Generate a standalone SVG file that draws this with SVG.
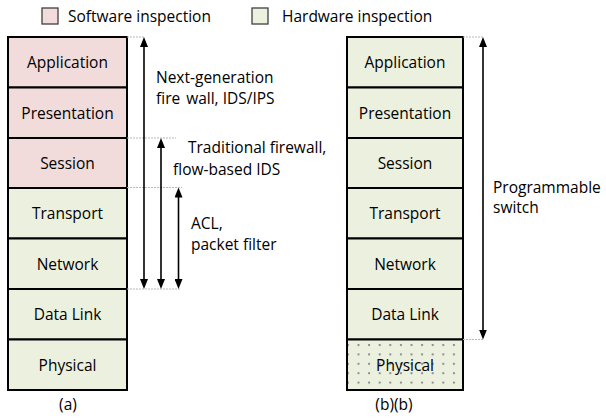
<svg xmlns="http://www.w3.org/2000/svg" width="606" height="418" viewBox="0 0 606 418">
<style>
text{font-family:"Open Sans","Noto Sans","Liberation Sans",sans-serif;font-size:15.5px;fill:#000}
.c{text-anchor:middle}
.sw{fill:#f2dcdb;stroke:#000;stroke-width:2}
.hw{fill:#ebf1de;stroke:#000;stroke-width:2}
.lg{stroke:#404040;stroke-width:1.3}
.arr{stroke:#000;stroke-width:1.6;fill:none;marker-start:url(#ah);marker-end:url(#ah)}
.guide{stroke:#b8b8b8;stroke-width:1;stroke-dasharray:2 1;fill:none}
</style>
<defs>
<marker id="ah" viewBox="0 0 10 8" refX="5" refY="4" markerWidth="10" markerHeight="8" markerUnits="userSpaceOnUse" orient="auto-start-reverse">
<path d="M0,0 L10,4 L0,8 z" fill="#000"/>
</marker>
<pattern id="dots" patternUnits="userSpaceOnUse" x="357.5" y="344" width="10.6" height="9.4">
<rect x="0" y="0" width="10.6" height="9.4" fill="#ebf1de"/>
<rect x="0" y="0" width="2" height="2" fill="#8f8f8f"/>
</pattern>
</defs>

<g id="legend">
<g id="legend-software"><rect class="lg" x="42" y="8" width="16" height="16" fill="#f2dcdb"/><text x="68" y="22">Software inspection</text></g>
<g id="legend-hardware"><rect class="lg" x="252" y="8" width="16" height="16" fill="#ebf1de"/><text x="282" y="22">Hardware inspection</text></g>
</g>

<g id="stack-a">
<g id="a-application"><rect class="sw" x="8" y="37" width="119" height="50.5"/><text class="c" x="67.5" y="68">Application</text></g>
<g id="a-presentation"><rect class="sw" x="8" y="87.5" width="119" height="50.5"/><text class="c" x="67.5" y="118.5">Presentation</text></g>
<g id="a-session"><rect class="sw" x="8" y="138" width="119" height="50"/><text class="c" x="67.5" y="169">Session</text></g>
<g id="a-transport"><rect class="hw" x="8" y="188" width="119" height="50.5"/><text class="c" x="67.5" y="219">Transport</text></g>
<g id="a-network"><rect class="hw" x="8" y="238.5" width="119" height="50.5"/><text class="c" x="67.5" y="269.5">Network</text></g>
<g id="a-datalink"><rect class="hw" x="8" y="289" width="119" height="50.5"/><text class="c" x="67.5" y="320">Data Link</text></g>
<g id="a-physical"><rect class="hw" x="8" y="339.5" width="119" height="50.5"/><text class="c" x="67.5" y="370.5">Physical</text></g>
</g>

<g id="stack-b">
<g id="b-application"><rect class="hw" x="347" y="37" width="116" height="50.5"/><text class="c" x="405" y="68">Application</text></g>
<g id="b-presentation"><rect class="hw" x="347" y="87.5" width="116" height="50.5"/><text class="c" x="405" y="118.5">Presentation</text></g>
<g id="b-session"><rect class="hw" x="347" y="138" width="116" height="50"/><text class="c" x="405" y="169">Session</text></g>
<g id="b-transport"><rect class="hw" x="347" y="188" width="116" height="50.5"/><text class="c" x="405" y="219">Transport</text></g>
<g id="b-network"><rect class="hw" x="347" y="238.5" width="116" height="50.5"/><text class="c" x="405" y="269.5">Network</text></g>
<g id="b-datalink"><rect class="hw" x="347" y="289" width="116" height="50.5"/><text class="c" x="405" y="320">Data Link</text></g>
<g id="b-physical"><rect x="347" y="339.5" width="116" height="50.5" fill="url(#dots)" stroke="#000" stroke-width="2"/><text class="c" x="405" y="370.5">Physical</text></g>
</g>

<g id="connectors">
<path class="guide" d="M127,37 H145 M127,138 H176 M127,187.5 H182 M127,289 H180"/>
<path class="guide" d="M463,37 H484 M463,339.5 H484"/>
<path class="arr" d="M144,42 V284"/>
<path class="arr" d="M161,143 V284"/>
<path class="arr" d="M178.5,192.5 V284"/>
<path class="arr" d="M483,42 V334.5"/>
</g>

<g id="labels">
<g id="label-ngfw"><text x="156" y="83">Next-generation</text><text x="156" y="104"><tspan>fire</tspan><tspan dx="6">wall, IDS/IPS</tspan></text></g>
<g id="label-traditional"><text x="188" y="153">Traditional firewall,</text><text x="173" y="175">flow-based IDS</text></g>
<g id="label-acl"><text x="191" y="229">ACL,</text><text x="191" y="250">packet filter</text></g>
<g id="label-switch"><text x="493" y="193">Programmable</text><text x="493" y="213">switch</text></g>
<g id="caption-a"><text class="c" x="68" y="410">(a)</text></g>
<g id="caption-b"><text class="c" x="394" y="410">(b)(b)</text></g>
</g>
</svg>
